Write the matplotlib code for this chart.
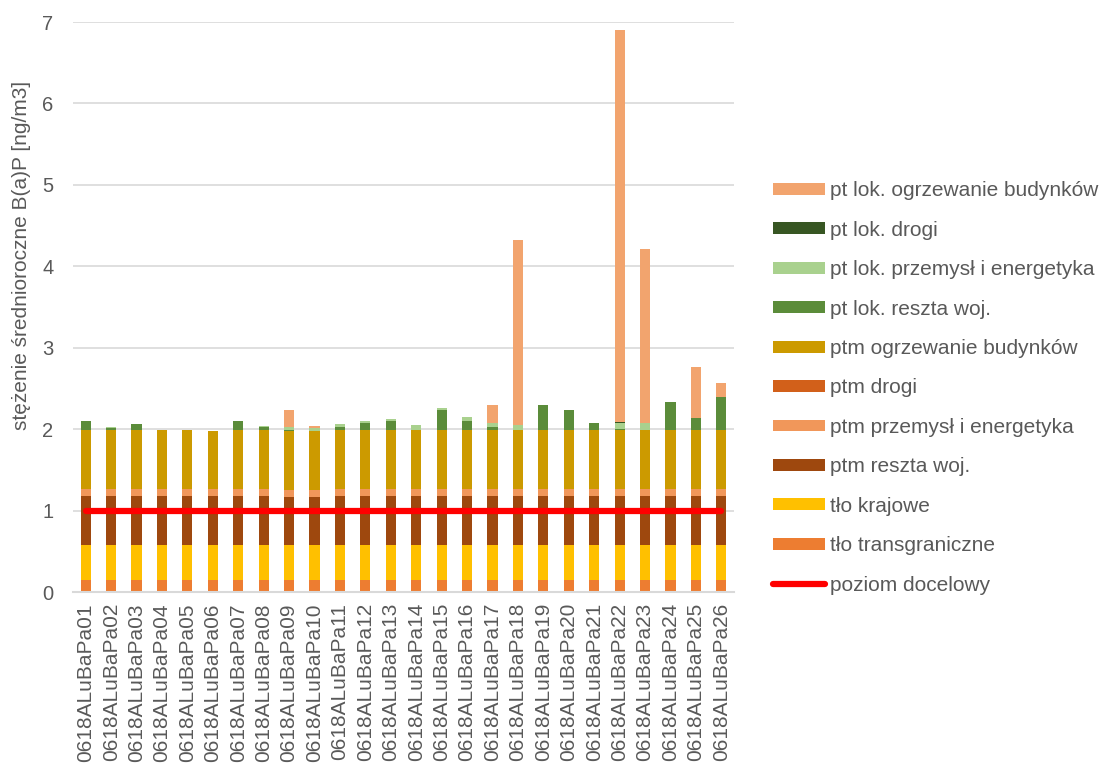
import numpy as np
import matplotlib.pyplot as plt
from matplotlib.lines import Line2D
from matplotlib.patches import Patch

plt.rcParams['font.family'] = ['Liberation Sans', 'DejaVu Sans']

# Stacje pomiarowe
stacje = ['0618ALuBaPa%02d' % i for i in range(1, 27)]

# Udziały źródeł [ng/m3]
tlo_transgraniczne = [0.145] * 26
tlo_krajowe = [0.43] * 26
ptm_reszta = [0.60, 0.60, 0.60, 0.60, 0.60, 0.60, 0.60, 0.60, 0.59, 0.59, 0.60, 0.60, 0.60,
              0.60, 0.60, 0.60, 0.60, 0.60, 0.60, 0.60, 0.60, 0.60, 0.60, 0.60, 0.60, 0.60]
ptm_przemysl = [0.085] * 26
ptm_drogi = [0.005] * 26
ptm_ogrzewanie = [0.725, 0.725, 0.725, 0.725, 0.725, 0.715, 0.725, 0.725, 0.725, 0.725, 0.725, 0.725, 0.725,
                  0.725, 0.725, 0.725, 0.725, 0.725, 0.725, 0.725, 0.725, 0.725, 0.725, 0.725, 0.725, 0.725]
ptlok_reszta = [0.105, 0.025, 0.07, 0.005, 0.0, 0.0, 0.105, 0.04, 0.01, 0.0, 0.035, 0.08, 0.105,
                0.0, 0.24, 0.105, 0.04, 0.0, 0.305, 0.245, 0.08, 0.01, 0.005, 0.34, 0.15, 0.405]
ptlok_przemysl = [0.0, 0.01, 0.005, 0.0, 0.0, 0.0, 0.0, 0.01, 0.035, 0.04, 0.035, 0.025, 0.035,
                  0.065, 0.025, 0.05, 0.05, 0.06, 0.0, 0.0, 0.0, 0.08, 0.078, 0.0, 0.0, 0.0]
ptlok_drogi = [0.0, 0.0, 0.0, 0.0, 0.0, 0.0, 0.0, 0.0, 0.0, 0.0, 0.0, 0.0, 0.0,
               0.0, 0.0, 0.0, 0.0, 0.003, 0.0, 0.0, 0.0, 0.005, 0.003, 0.0, 0.0, 0.0]
ptlok_ogrzewanie = [0.0, 0.0, 0.0, 0.0, 0.0, 0.0, 0.0, 0.0, 0.205, 0.02, 0.0, 0.0, 0.0,
                    0.0, 0.0, 0.0, 0.22, 2.27, 0.0, 0.0, 0.0, 4.82, 2.14, 0.0, 0.62, 0.17]
poziom_docelowy = [1.0] * 26

serie = [
    ('tło transgraniczne', tlo_transgraniczne, '#ED7D31'),
    ('tło krajowe', tlo_krajowe, '#FFC000'),
    ('ptm reszta woj.', ptm_reszta, '#9E480E'),
    ('ptm przemysł i energetyka', ptm_przemysl, '#F1975A'),
    ('ptm drogi', ptm_drogi, '#D2601A'),
    ('ptm ogrzewanie budynków', ptm_ogrzewanie, '#CC9A00'),
    ('pt lok. reszta woj.', ptlok_reszta, '#5B8C3A'),
    ('pt lok. przemysł i energetyka', ptlok_przemysl, '#A9D18E'),
    ('pt lok. drogi', ptlok_drogi, '#375623'),
    ('pt lok. ogrzewanie budynków', ptlok_ogrzewanie, '#F2A46E'),
]

tekst = '#595959'
fig = plt.figure(figsize=(11.08, 7.64), dpi=100)
ax = fig.add_axes([73 / 1108, 1 - 592 / 764, 661 / 1108, 570 / 764])

x = np.arange(len(stacje))
dol = np.zeros(len(stacje))
uchwyty = []
for nazwa, wart, kolor in serie:
    ax.bar(x, wart, 0.4, bottom=dol, color=kolor, zorder=2)
    dol += np.array(wart)
    uchwyty.append(Patch(facecolor=kolor, label=nazwa))

ax.plot(x, poziom_docelowy, color='#FF0000', lw=4.5, solid_capstyle='round', zorder=3)

ax.set_xlim(-0.5, len(stacje) - 0.5)
ax.set_ylim(0, 7)
ax.set_yticks(range(0, 8))
ax.grid(axis='y', color='#D9D9D9', lw=1.2, zorder=0)
for s in ['top', 'right', 'left']:
    ax.spines[s].set_visible(False)
ax.spines['bottom'].set_color('#D9D9D9')
ax.spines['bottom'].set_linewidth(1.5)
ax.set_xticks(x)
ax.set_xticklabels(stacje, rotation=90, fontsize=15, color=tekst)
ax.tick_params(axis='x', length=0, pad=8)
ax.tick_params(axis='y', length=0, pad=14, labelsize=14.5, labelcolor=tekst)
ax.set_ylabel('stężenie średnioroczne B(a)P [ng/m3]', fontsize=15, color=tekst)
ax.yaxis.set_label_coords(-0.064, 0.59)

uchwyty = uchwyty[::-1]
uchwyty.append(Line2D([0], [0], color='#FF0000', lw=4.5, solid_capstyle='round', label='poziom docelowy'))
fig.legend(handles=uchwyty, loc='center left', bbox_to_anchor=(773 / 1108, 1 - 388 / 764),
           frameon=False, fontsize=15, labelcolor=tekst, handlelength=2.5, handleheight=0.5,
           handletextpad=0.25, labelspacing=0.98, borderpad=0, borderaxespad=0)

fig.savefig('out.png', dpi=100)
